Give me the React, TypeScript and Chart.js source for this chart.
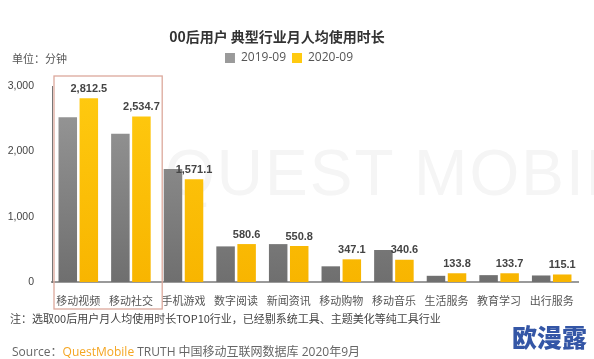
import React, { useEffect, useRef } from "react";
import { Chart, registerables } from "chart.js";

Chart.register(...registerables);

const categories = ["移动视频", "移动社交", "手机游戏", "数字阅读", "新闻资讯", "移动购物", "移动音乐", "生活服务", "教育学习", "出行服务"];
const series2019 = [2520, 2270, 1730, 545, 580, 240, 490, 95, 105, 100];
const series2020 = [2812.5, 2534.7, 1571.1, 580.6, 550.8, 347.1, 340.6, 133.8, 133.7, 115.1];
const seriesNames = ["2019-09", "2020-09"];
const yTicks = [0, 1000, 2000, 3000];

const title = "00后用户 典型行业月人均使用时长";
const unitText = "单位：分钟";
const noteText = "注：选取00后用户月人均使用时长TOP10行业，已经剔系统工具、主题美化等纯工具行业";

const fmt = (v: number) =>
  v.toLocaleString("en-US", { minimumFractionDigits: 1, maximumFractionDigits: 1 });

const NUM_FONT = '"Liberation Sans", "Noto Sans CJK SC", sans-serif';
const CJK_FONT = '"Noto Sans CJK SC", "Liberation Sans", sans-serif';

export default function App() {
  const ref = useRef<HTMLCanvasElement | null>(null);

  useEffect(() => {
    const canvas = ref.current;
    if (!canvas) return;

    const grad = (c1: string, c2: string) => (ctx: any) => {
      const chart = ctx.chart;
      const area = chart.chartArea;
      if (!area) return c1;
      const g = chart.ctx.createLinearGradient(0, area.top, 0, area.bottom);
      g.addColorStop(0, c1);
      g.addColorStop(1, c2);
      return g;
    };

    const legendSpacer = {
      id: "legendSpacer",
      beforeInit(chart: any) {
        const orig = chart.legend.fit;
        chart.legend.fit = function fit() {
          orig.call(this);
          this.height += 12;
        };
      },
    };

    const valueLabels = {
      id: "valueLabels",
      afterDatasetsDraw(chart: any) {
        const c = chart.ctx;
        const meta = chart.getDatasetMeta(1);
        c.save();
        c.font = `bold 11px ${NUM_FONT}`;
        c.fillStyle = "#444";
        c.textAlign = "center";
        c.textBaseline = "bottom";
        meta.data.forEach((bar: any, i: number) => {
          c.fillText(fmt(series2020[i]), bar.x, bar.y - 4);
        });
        c.restore();
      },
    };

    const highlightBox = {
      id: "highlightBox",
      afterDraw(chart: any) {
        const c = chart.ctx;
        const area = chart.chartArea;
        const xs = chart.scales.x;
        const catW = (area.right - area.left) / categories.length;
        const x0 = area.left + 2;
        const x1 = xs.getPixelForValue(1) + catW / 2 + 5;
        const y0 = area.top - 10;
        const y1 = area.bottom + 27;
        c.save();
        c.strokeStyle = "#dca89c";
        c.lineWidth = 1.3;
        c.strokeRect(x0, y0, x1 - x0, y1 - y0);
        c.restore();
      },
    };

    const chart = new Chart(canvas, {
      type: "bar",
      data: {
        labels: categories,
        datasets: [
          {
            label: seriesNames[0],
            data: series2019,
            backgroundColor: grad("#9a9a9a", "#6f6f6f"),
            borderWidth: 0,
            barPercentage: 0.88,
            categoryPercentage: 0.8,
          },
          {
            label: seriesNames[1],
            data: series2020,
            backgroundColor: grad("#ffca10", "#f8b500"),
            borderWidth: 0,
            barPercentage: 0.88,
            categoryPercentage: 0.8,
          },
        ],
      },
      options: {
        responsive: false,
        animation: false,
        layout: { padding: { top: 46, right: 16, left: 0, bottom: 0 } },
        plugins: {
          title: { display: false },
          tooltip: { enabled: false },
          legend: {
            display: true,
            position: "top",
            labels: {
              boxWidth: 10,
              boxHeight: 10,
              padding: 6,
              color: "#555",
              font: { size: 12, family: '"Open Sans", "Noto Sans", sans-serif' },
            },
          },
        },
        scales: {
          x: {
            grid: { display: false },
            border: { display: true, color: "#9a9a9a", width: 2 },
            ticks: {
              color: "#555",
              padding: 4,
              maxRotation: 0,
              autoSkip: false,
              font: { size: 11, family: CJK_FONT },
            },
            afterFit(scale: any) {
              scale.height = 77;
            },
          },
          y: {
            min: 0,
            max: 3000,
            afterBuildTicks(scale: any) {
              scale.ticks = yTicks.map((v) => ({ value: v }));
            },
            grid: { display: false },
            border: { display: true, color: "#777", width: 1 },
            ticks: {
              color: "#444",
              padding: 10,
              font: { size: 10.5, family: NUM_FONT },
              callback: (v: any) => Number(v).toLocaleString("en-US"),
            },
            afterFit(scale: any) {
              scale.width = 52;
            },
          },
        },
      },
      plugins: [legendSpacer, valueLabels, highlightBox],
    } as any);

    return () => chart.destroy();
  }, []);

  return (
    <div style={{ position: "absolute", left: 0, top: 0, width: 594, height: 359, background: "#fff", overflow: "hidden" }}>
      <div
        style={{
          position: "absolute",
          left: 165,
          top: 136,
          font: `64px ${NUM_FONT}`,
          color: "#f5f5f5",
          letterSpacing: 2,
          whiteSpace: "nowrap",
        }}
      >
        QUEST MOBILE
      </div>
      <canvas ref={ref} width={594} height={359} style={{ position: "absolute", left: 0, top: 0 }} />
      <div
        style={{
          position: "absolute",
          left: 0,
          width: 554,
          top: 27,
          textAlign: "center",
          font: `bold 14px/18px ${CJK_FONT}`,
          color: "#333",
          whiteSpace: "nowrap",
        }}
      >
        {title}
      </div>
      <div style={{ position: "absolute", left: 12, top: 51, font: `11px/14px ${CJK_FONT}`, color: "#555" }}>{unitText}</div>
      <div
        style={{ position: "absolute", left: 10, top: 311, font: `11px/15px ${CJK_FONT}`, color: "#444", whiteSpace: "nowrap" }}
      >
        {noteText}
      </div>
      <div
        style={{
          position: "absolute",
          left: 12,
          top: 344,
          font: `12px/16px "Open Sans", ${CJK_FONT}`,
          color: "#666",
          whiteSpace: "nowrap",
        }}
      >
        Source：<span style={{ color: "#f5a623" }}>QuestMobile</span> TRUTH 中国移动互联网数据库 2020年9月
      </div>
      <div
        style={{
          position: "absolute",
          left: 512,
          top: 321,
          font: `900 25px/30px ${CJK_FONT}`,
          color: "#3456a6",
          whiteSpace: "nowrap",
        }}
      >
        欧漫露
      </div>
    </div>
  );
}
